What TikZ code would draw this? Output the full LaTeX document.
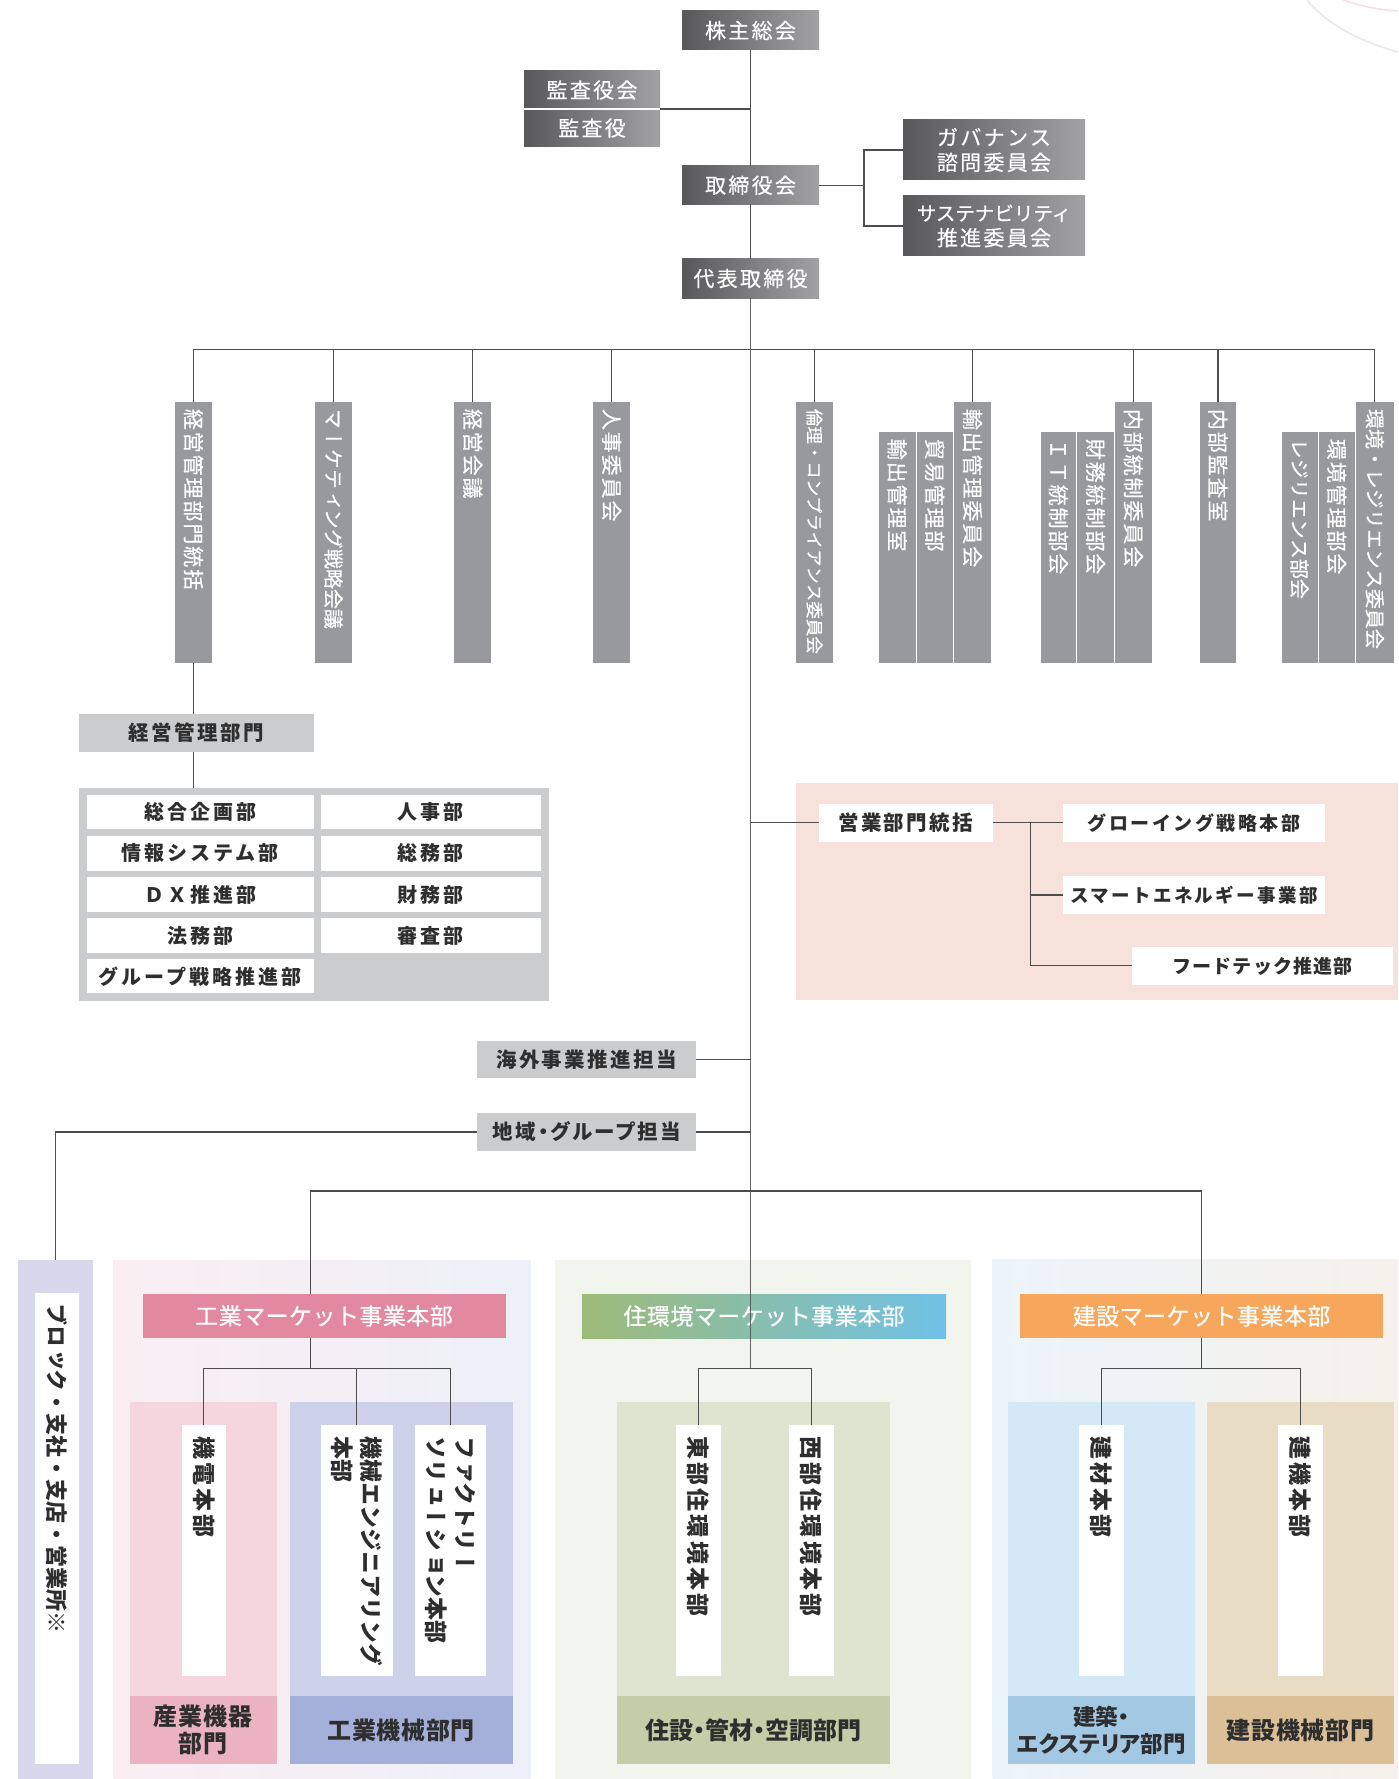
\documentclass[tikz,border=0pt]{standalone}
\usepackage{fontspec}
\newfontfamily\jpN{Noto Sans CJK JP}
\newfontfamily\jpP[RawFeature=+palt]{Noto Sans CJK JP}
\newfontfamily\jpPs[RawFeature=+palt,LetterSpace=12]{Noto Sans CJK JP}
\newfontfamily\jpL[LetterSpace=12]{Noto Sans CJK JP}
\newfontfamily\jpCell[LetterSpace=15]{Noto Sans CJK JP}
\newfontfamily\jpAm[LetterSpace=11,FakeBold=0.5]{Noto Sans CJK JP}
\newfontfamily\jpNm[FakeBold=0.5]{Noto Sans CJK JP}
\newfontfamily\jpH[LetterSpace=2,FakeBold=0.5]{Noto Sans CJK JP}
\newfontfamily\jpB[LetterSpace=6]{Noto Sans CJK JP}
\newfontfamily\jpC[LetterSpace=13]{Noto Sans CJK JP}
\newfontfamily\jpLb[LetterSpace=3]{Noto Sans CJK JP}
\newfontfamily\jpV[Vertical=RotatedGlyphs,LetterSpace=14]{Noto Sans CJK JP}
\newfontfamily\jpVN[Vertical=RotatedGlyphs]{Noto Sans CJK JP}
\newfontfamily\jpVm[Vertical=RotatedGlyphs,LetterSpace=9,FakeBold=0.4]{Noto Sans CJK JP}
\newfontfamily\jpVNm[Vertical=RotatedGlyphs,FakeBold=0.4]{Noto Sans CJK JP}
\usetikzlibrary{calc}
\definecolor{linec}{HTML}{4D4D4D}
\definecolor{gdark}{HTML}{58585A}
\definecolor{glight}{HTML}{A2A2A5}
\definecolor{vgrey}{HTML}{98999D}
\definecolor{lgrey}{HTML}{CBCCCE}
\definecolor{txtd}{HTML}{2E2E2E}
\definecolor{peach}{HTML}{F6E2DA}
\definecolor{lav}{HTML}{D7D8EC}
\definecolor{indL}{HTML}{FAEEF2}
\definecolor{indR}{HTML}{EDF0F8}
\definecolor{pinkS}{HTML}{F5D6DE}
\definecolor{pinkL}{HTML}{EBB2C2}
\definecolor{blueS}{HTML}{CDD2EA}
\definecolor{blueL}{HTML}{A4B0DA}
\definecolor{pinkH}{HTML}{E2889F}
\definecolor{grnP}{HTML}{F2F5EE}
\definecolor{grnS}{HTML}{DFE4D0}
\definecolor{grnL}{HTML}{C4CDA7}
\definecolor{grnH}{HTML}{9DBA77}
\definecolor{bluH}{HTML}{70C2E8}
\definecolor{conL}{HTML}{ECF4FB}
\definecolor{conR}{HTML}{F6F1EA}
\definecolor{skyS}{HTML}{D4E8F6}
\definecolor{skyL}{HTML}{A3C8E4}
\definecolor{tanS}{HTML}{E9DCC5}
\definecolor{tanL}{HTML}{DBBF97}
\definecolor{orgH}{HTML}{F7A75C}
\definecolor{arcpink}{HTML}{F7DCE4}
\definecolor{arclav}{HTML}{E8E4F0}
\newcommand\fs[2]{\fontsize{#1}{#2}\selectfont}
\newcommand\RB[7]{\node[#1,minimum width={(#5-#3)*1pt},minimum height={(#6-#4)*1pt}] (#2) at ({(#3+#5)/2},{(#4+#6)/2}) {#7};}
\tikzset{
  base/.style={rectangle,inner sep=0pt,outer sep=0pt},
  gbox/.style={base,left color=gdark,right color=glight,text=white,align=center,font=\jpAm\fs{21}{25}},
  vbox/.style={base,fill=vgrey,draw=white,line width=0.8pt},
  vtxt/.style={rotate=-90,anchor=west,inner sep=0pt,text=white,font=\jpVm\fs{21}{24}},
  pfill/.style={base,fill=#1},
  lbox/.style={base,fill=lgrey,text=txtd,align=center,font=\jpL\bfseries\fs{20.5}{24}},
  cell/.style={base,fill=white,text=txtd,align=center,font=\jpCell\bfseries\fs{20}{24}},
  wtbox/.style={base,fill=white,text=txtd,align=center,font=\jpB\bfseries\fs{19}{22}},
  hdr/.style={base,text=white,align=center,font=\jpH\fs{23}{26}},
  lbl/.style={base,text=txtd,align=center,font=\jpLb\bfseries\fs{24}{27}},
  bvtxt/.style={rotate=-90,anchor=west,inner sep=0pt,text=txtd,align=left,font=\jpV\bfseries\fs{23}{29}},
  conn/.style={draw=linec,line width=1.2pt}
}
\begin{document}
\begin{tikzpicture}[x=1pt,y=-1pt]
\useasboundingbox (0,0) rectangle (1398,1779);
\fill[white] (0,0) rectangle (1398,1779);
% decorative arcs
\draw[arcpink,line width=1.5pt] (1343,0) .. controls (1360,6) and (1380,10) .. (1398,11);
\draw[arclav,line width=1.5pt] (1307,0) .. controls (1325,22) and (1355,40) .. (1398,52);

% ---------- top governance ----------
\RB{gbox}{kabu}{682}{11}{819}{50}{株主総会}
\RB{gbox}{kansakai}{524}{71}{660}{109}{監査役会}
\RB{gbox}{kansa}{524}{109}{660}{147}{監査役}
\RB{gbox}{tori}{682}{166}{819}{204.5}{取締役会}
\RB{gbox}{gov}{903}{120}{1085}{180}{ガバナンス\\諮問委員会}
\RB{gbox}{sus}{903}{196}{1085}{256}{{\jpNm\fs{19.5}{25}サステナビリティ}\\推進委員会}
\RB{gbox}{daihyo}{682}{259}{819}{298}{代表取締役}
\draw[white,line width=1.2pt] (kansakai.south west) -- (kansakai.south east);

% ---------- vertical grey boxes ----------
\RB{vbox}{v1}{174.7}{401.7}{212.3}{663}{}
\RB{vbox}{v2}{314.7}{401.7}{352.3}{663}{}
\RB{vbox}{v3}{453.7}{401.7}{491.7}{663}{}
\RB{vbox}{v4}{592.7}{401.7}{630.7}{663}{}
\RB{vbox}{v5}{795.8}{401.7}{833.2}{663}{}
\RB{vbox}{v6a}{878.5}{431.7}{916}{663}{}
\RB{vbox}{v6b}{916}{431.7}{953.4}{663}{}
\RB{vbox}{v6c}{953.4}{401.7}{991.7}{663}{}
\RB{vbox}{v7a}{1040}{431.7}{1076.8}{663}{}
\RB{vbox}{v7b}{1076.8}{431.7}{1114.3}{663}{}
\RB{vbox}{v7c}{1114.3}{401.7}{1152.5}{663}{}
\RB{vbox}{v8}{1199}{401.7}{1236.8}{663}{}
\RB{vbox}{v9a}{1281}{431.7}{1318}{663}{}
\RB{vbox}{v9b}{1318}{431.7}{1355.5}{663}{}
\RB{vbox}{v9c}{1355.5}{401.7}{1394}{663}{}

% ---------- management division ----------
\RB{lbox}{kanri}{79.3}{714}{313.7}{751.7}{経営管理部門}
\RB{pfill=lgrey}{kcont}{79.3}{787.7}{548.7}{1000.7}{}
\RB{cell}{c11}{86.7}{795}{313.7}{829.3}{総合企画部}
\RB{cell}{c21}{86.7}{836}{313.7}{870.5}{情報システム部}
\RB{cell}{c31}{86.7}{877.3}{313.7}{911.7}{ＤＸ推進部}
\RB{cell}{c41}{86.7}{918.3}{313.7}{952.7}{法務部}
\RB{cell}{c51}{86.7}{959.3}{313.7}{993.3}{グループ戦略推進部}
\RB{cell}{c12}{320.7}{795}{540.7}{829.3}{人事部}
\RB{cell}{c22}{320.7}{836}{540.7}{870.5}{総務部}
\RB{cell}{c32}{320.7}{877.3}{540.7}{911.7}{財務部}
\RB{cell}{c42}{320.7}{918.3}{540.7}{952.7}{審査部}

% ---------- sales area ----------
\RB{pfill=peach}{eigyoarea}{795.8}{782.7}{1398}{1000}{}
\RB{wtbox}{eigyo}{818.6}{804}{992.8}{841.7}{{\jpL\fs{20.5}{22}営業部門統括}}
\RB{wtbox}{grow}{1063}{804}{1325}{841.7}{{\jpC グローイング戦略本部}}
\RB{wtbox}{smart}{1063}{876}{1325}{914}{{\jpC\fs{18.5}{22}スマートエネルギー事業部}}
\RB{wtbox}{food}{1132}{946.7}{1393}{985}{フードテック推進部}

\RB{lbox}{kaigai}{477}{1040.5}{696.4}{1078}{海外事業推進担当}
\RB{lbox}{chiiki}{477}{1113.3}{696.4}{1150.7}{{\jpPs\bfseries 地域・グループ担当}}

% ---------- left column ----------
\RB{pfill=lav}{lcol}{17.5}{1260}{93.2}{1779}{}
\RB{pfill=white}{lcolw}{34.8}{1293.3}{78.5}{1764.3}{}

% ---------- industrial ----------
\RB{base,left color=indL,right color=indR}{indP}{113.5}{1260}{530.5}{1779}{}
\RB{hdr,fill=pinkH}{kogyoH}{142.6}{1294}{505.5}{1337.7}{工業マーケット事業本部}
\RB{pfill=pinkS}{sangyoS}{129.5}{1401.7}{276.5}{1764.3}{}
\RB{lbl,fill=pinkL}{sangyoL}{129.5}{1696}{276.5}{1764.3}{産業機器\\部門}
\RB{pfill=white}{kiden}{181.5}{1425}{226.2}{1675.7}{}
\RB{pfill=blueS}{kikaiS}{289.6}{1401.7}{512.7}{1764.3}{}
\RB{lbl,fill=blueL}{kikaiL}{289.6}{1696}{512.7}{1764.3}{工業機械部門}
\RB{pfill=white}{kikai}{320.6}{1425}{392.6}{1675.7}{}
\RB{pfill=white}{fact}{414.6}{1425}{486.2}{1675.7}{}

% ---------- housing ----------
\RB{pfill=grnP}{jukP}{554.7}{1259.6}{971}{1779}{}
\RB{hdr,left color=grnH,right color=bluH}{jukH}{582}{1294}{946}{1338}{住環境マーケット事業本部}
\RB{pfill=grnS}{jukS}{616.7}{1401.6}{890}{1764.2}{}
\RB{lbl,fill=grnL}{jukL}{616.7}{1696.2}{890}{1764.2}{{\jpP\bfseries 住設・管材・空調部門}}
\RB{pfill=white}{east}{676}{1425}{720.7}{1675.5}{}
\RB{pfill=white}{west}{789}{1425}{833.7}{1675.5}{}

% ---------- construction ----------
\RB{base,left color=conL,right color=conR}{kenP}{992.7}{1259.6}{1398}{1779}{}
\RB{hdr,fill=orgH}{kenH}{1020}{1294}{1383}{1338}{建設マーケット事業本部}
\RB{pfill=skyS}{kenS1}{1008}{1401.6}{1195}{1764.2}{}
\RB{lbl,fill=skyL}{kenL1}{1008}{1696.2}{1195}{1764.2}{{\jpP\bfseries\fs{22.5}{26}建築・}\\{\jpP\bfseries\fs{22.5}{26}エクステリア部門}}
\RB{pfill=tanS}{kenS2}{1207}{1401.6}{1394}{1764.2}{}
\RB{lbl,fill=tanL}{kenL2}{1207}{1696.2}{1394}{1764.2}{建設機械部門}
\RB{pfill=white}{kenzai}{1079}{1425}{1124}{1675.5}{}
\RB{pfill=white}{kenki}{1278}{1425}{1323}{1675.5}{}

% ---------- coordinates ----------
\coordinate (gj) at (864,185.25);
\coordinate (barY) at (0,349.3);
\coordinate (ej) at (1030.7,822.85);
\coordinate (kstem) at (310.3,1191);
\coordinate (kj) at (310.3,1368.3);
\coordinate (jj) at (750.5,1368.2);
\coordinate (cj) at (1201.5,1368.2);

% ---------- connectors ----------
\draw[conn] (kabu.south) -- (tori.north);
\draw[conn] (kansakai.south east) -- (kansakai.south east -| kabu.south);
\draw[conn] (tori.south) -- (daihyo.north);
\draw[conn] (tori.east) -- (gj);
\draw[conn] (gov.west) -| (gj);
\draw[conn] (sus.west) -| (gj);
\draw[conn] (v1.north) -- (v1.north |- barY) -- (v9c.north |- barY) -- (v9c.north);
\foreach \n in {v2,v3,v4,v5,v6c,v7c,v8}{\draw[conn] (\n.north) -- (\n.north |- barY);}
\draw[conn] (v1.south) -- (v1.south |- kanri.north);
\draw[conn] (v1.south |- kanri.south) -- (v1.south |- kcont.north);
\draw[conn] (eigyo.west) -- (eigyo.west -| daihyo.south);
\draw[conn] (eigyo.east) -- (grow.west);
\draw[conn] (ej) |- (food.west);
\draw[conn] (ej |- smart.west) -- (smart.west);
\draw[conn] (kaigai.east) -- (kaigai.east -| daihyo.south);
\draw[conn] (chiiki.east) -- (chiiki.east -| daihyo.south);
\draw[conn] (chiiki.west) -| (lcol.north);
\draw[conn] (kstem -| kenH.north) -- (kstem) -- (kstem |- kogyoH.north);
\draw[conn] (kstem -| kenH.north) -- (kenH.north);
\draw[conn] (kstem |- kogyoH.south) -- (kj);
\draw[conn] (kiden.north) -- (kiden.north |- kj) -- (fact.north |- kj) -- (fact.north);
\draw[conn] (kikai.north) -- (kikai.north |- kj);
\draw[conn] (kenH.south) -- (cj);
\draw[conn] (kenzai.north) -- (kenzai.north |- cj) -- (kenki.north |- cj) -- (kenki.north);
\draw[conn] (east.north) -- (east.north |- jj) -- (west.north |- jj) -- (west.north);
\draw[conn,opacity=0.85] (daihyo.south) -- (jj);

% ---------- vertical texts ----------
\node[vtxt] (tv1) at ($(v1.north)+(0,7)$) {経営管理部門統括};
\node[vtxt,font=\jpVNm\fs{20}{24}] (tv2) at ($(v2.north)+(0,7)$) {マーケティング戦略会議};
\node[vtxt] (tv3) at ($(v3.north)+(0,7)$) {経営会議};
\node[vtxt] (tv4) at ($(v4.north)+(0,7)$) {人事委員会};
\node[vtxt,font=\jpVNm\fs{17.5}{24}] (tv5) at ($(v5.north)+(0,7)$) {倫理・コンプライアンス委員会};
\node[vtxt] (tv6a) at ($(v6a.north)+(0,7)$) {輸出管理室};
\node[vtxt] (tv6b) at ($(v6b.north)+(0,7)$) {貿易管理部};
\node[vtxt] (tv6c) at ($(v6c.north)+(0,7)$) {輸出管理委員会};
\node[vtxt] (tv7a) at ($(v7a.north)+(0,7)$) {ＩＴ統制部会};
\node[vtxt] (tv7b) at ($(v7b.north)+(0,7)$) {財務統制部会};
\node[vtxt] (tv7c) at ($(v7c.north)+(0,7)$) {内部統制委員会};
\node[vtxt] (tv8) at ($(v8.north)+(0,7)$) {内部監査室};
\node[vtxt,font=\jpVNm\fs{20}{24}] (tv9a) at ($(v9a.north)+(0,7)$) {レジリエンス部会};
\node[vtxt] (tv9b) at ($(v9b.north)+(0,7)$) {環境管理部会};
\node[vtxt,font=\jpVNm\fs{20}{24}] (tv9c) at ($(v9c.north)+(0,7)$) {環境・レジリエンス委員会};

\node[bvtxt,font=\jpVN\bfseries\fs{22}{29}] (tlcol) at ($(lcolw.north)+(0,10)$) {ブロック・支社・支店・営業所※};
\node[bvtxt] (tkiden) at ($(kiden.north)+(0,11)$) {機電本部};
\node[bvtxt,font=\jpVN\bfseries\fs{23}{29}] (tkikai) at ($(kikai.north)+(0,11)$) {機械エンジニアリング\\本部};
\node[bvtxt,font=\jpVN\bfseries\fs{23}{29}] (tfact) at ($(fact.north)+(0,11)$) {ファクトリー\\ソリューション本部};
\node[bvtxt] (teast) at ($(east.north)+(0,11)$) {東部住環境本部};
\node[bvtxt] (twest) at ($(west.north)+(0,11)$) {西部住環境本部};
\node[bvtxt] (tkenzai) at ($(kenzai.north)+(0,11)$) {建材本部};
\node[bvtxt] (tkenki) at ($(kenki.north)+(0,11)$) {建機本部};
\end{tikzpicture}
\end{document}
